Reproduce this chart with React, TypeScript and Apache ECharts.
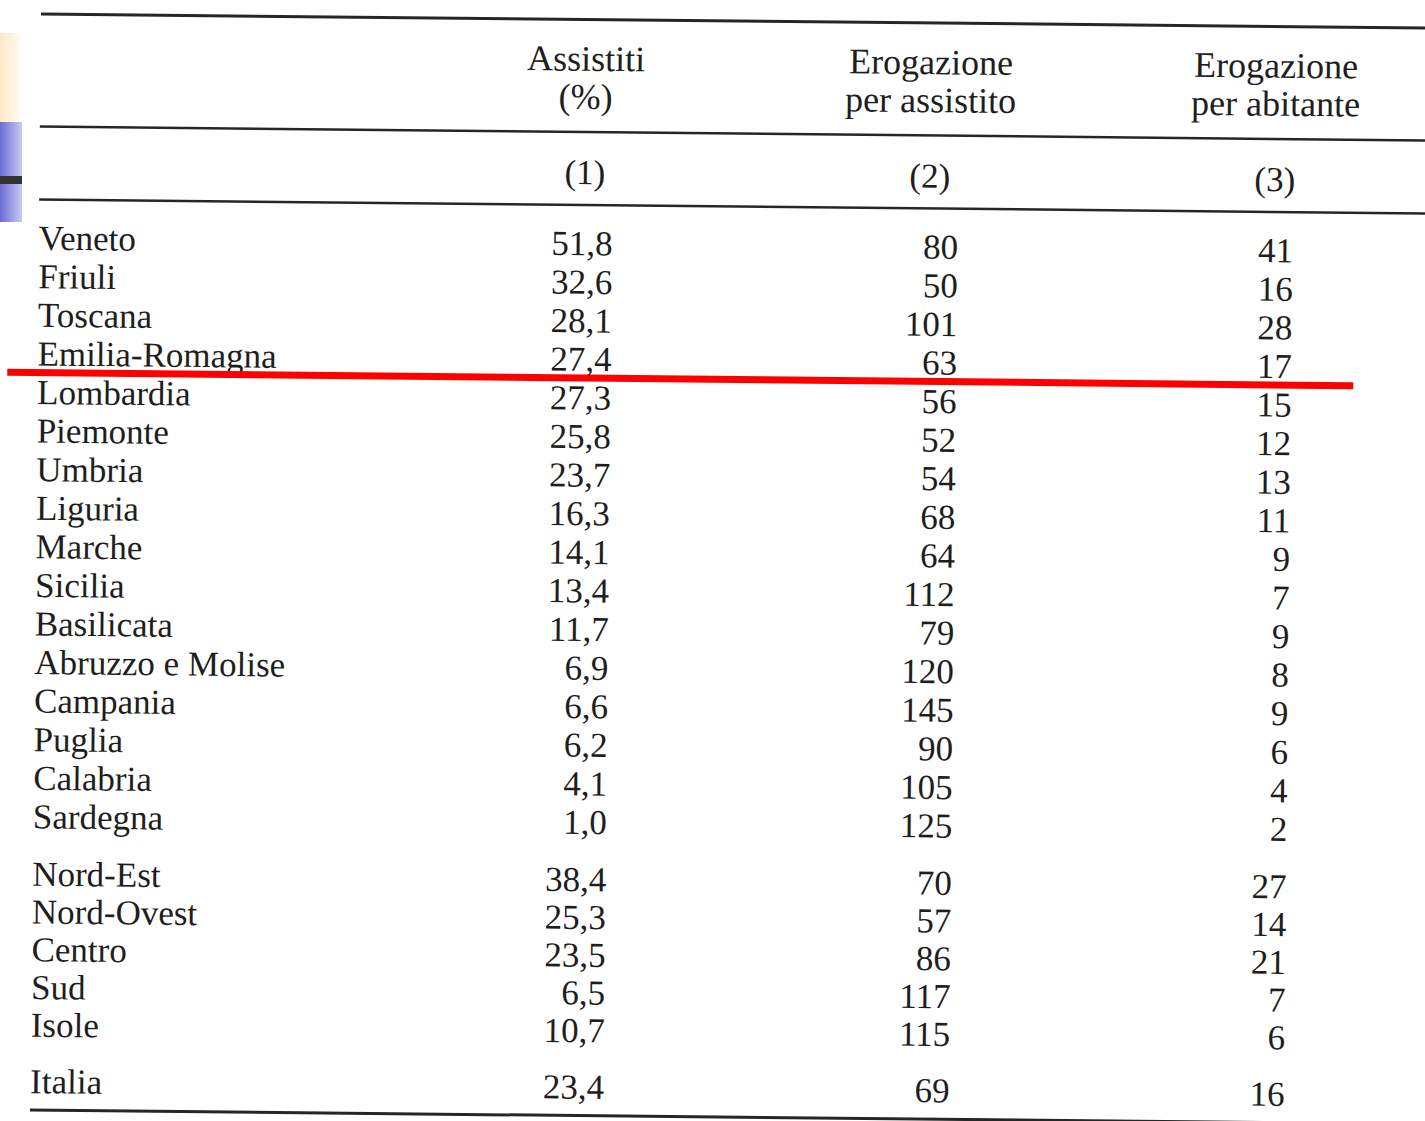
import React, { useEffect, useRef } from "react";
import * as echarts from "echarts";

// ---------- data ----------
const regions = [
  "Veneto", "Friuli", "Toscana", "Emilia-Romagna", "Lombardia", "Piemonte", "Umbria", "Liguria",
  "Marche", "Sicilia", "Basilicata", "Abruzzo e Molise", "Campania", "Puglia", "Calabria", "Sardegna",
];
const regionAssistitiPct = [51.8, 32.6, 28.1, 27.4, 27.3, 25.8, 23.7, 16.3, 14.1, 13.4, 11.7, 6.9, 6.6, 6.2, 4.1, 1.0];
const regionErogPerAssistito = [80, 50, 101, 63, 56, 52, 54, 68, 64, 112, 79, 120, 145, 90, 105, 125];
const regionErogPerAbitante = [41, 16, 28, 17, 15, 12, 13, 11, 9, 7, 9, 8, 9, 6, 4, 2];

const areas = ["Nord-Est", "Nord-Ovest", "Centro", "Sud", "Isole"];
const areaAssistitiPct = [38.4, 25.3, 23.5, 6.5, 10.7];
const areaErogPerAssistito = [70, 57, 86, 117, 115];
const areaErogPerAbitante = [27, 14, 21, 7, 6];

const totalLabels = ["Italia"];
const totalAssistitiPct = [23.4];
const totalErogPerAssistito = [69];
const totalErogPerAbitante = [16];

const headerLine1 = ["Assistiti", "Erogazione", "Erogazione"];
const headerLine2 = ["(%)", "per assistito", "per abitante"];
const columnNumbers = ["(1)", "(2)", "(3)"];

// ---------- layout ----------
const W = 1425;
const H = 1121;
const TILT = 0.0101; // scan rotation (radians, clockwise)
const PX_PER_COL = 345;
const COL1_PX = 581;
const PX_PER_ROW = 38.58;
const ROW0_PX = 245;
const X_MIN = 1 - COL1_PX / PX_PER_COL;
const X_MAX = X_MIN + W / PX_PER_COL;
const Y_MIN = -ROW0_PX / PX_PER_ROW;
const Y_MAX = Y_MIN + H / PX_PER_ROW;
const LABEL_X = X_MIN + 35.5 / PX_PER_COL;
const NUM_DX = [28.5, 29, 19];
const HEADER1_ROW = -4.795;
const HEADER2_ROW = -3.81;
const COLNUM_ROW = -1.84;
const areaRow = (j: number) => 16.485 + j * 0.979;
const TOTAL_ROW = 21.864;
const FONT = '"Liberation Serif", "DejaVu Serif", serif';
const INK = "#1e1e1e";

const fmtPct = (v: number) => v.toFixed(1).replace(".", ",");

type Cell = { x: number; y: number; text: string; align: string; size: number; dx: number };

function buildCells(): Cell[] {
  const cells: Cell[] = [];
  for (let k = 0; k < 3; k++) {
    cells.push({ x: k + 1, y: HEADER1_ROW, text: headerLine1[k], align: "center", size: 36, dx: 0 });
    cells.push({ x: k + 1, y: HEADER2_ROW, text: headerLine2[k], align: "center", size: 36, dx: 0 });
    cells.push({ x: k + 1, y: COLNUM_ROW, text: columnNumbers[k], align: "center", size: 35, dx: 0 });
  }
  const addRow = (label: string, row: number, a: number, b: number, c: number) => {
    cells.push({ x: LABEL_X, y: row, text: label, align: "left", size: 35, dx: 0 });
    cells.push({ x: 1, y: row, text: fmtPct(a), align: "right", size: 35, dx: NUM_DX[0] });
    cells.push({ x: 2, y: row, text: String(b), align: "right", size: 35, dx: NUM_DX[1] });
    cells.push({ x: 3, y: row, text: String(c), align: "right", size: 35, dx: NUM_DX[2] });
  };
  regions.forEach((r, i) => addRow(r, i, regionAssistitiPct[i], regionErogPerAssistito[i], regionErogPerAbitante[i]));
  areas.forEach((r, j) => addRow(r, areaRow(j), areaAssistitiPct[j], areaErogPerAssistito[j], areaErogPerAbitante[j]));
  totalLabels.forEach((r, j) => addRow(r, TOTAL_ROW, totalAssistitiPct[j], totalErogPerAssistito[j], totalErogPerAbitante[j]));
  return cells;
}

const RULE_X1 = X_MIN + 35.5 / PX_PER_COL;
const RULE_X2 = X_MAX + 0.3;
const rules = [
  { row: -5.811, width: 3, color: "#262626" },
  { row: -2.895, width: 2.5, color: "#262626" },
  { row: -1.003, width: 2.5, color: "#262626" },
  { row: 22.6, width: 3, color: "#262626" },
];
const redMark = { row: 3.481, x1: X_MIN + 5.4 / PX_PER_COL, x2: X_MIN + 1351.5 / PX_PER_COL, width: 7, color: "#ff0000" };

function rot(x: number, y: number): [number, number] {
  const cx = W / 2;
  const cy = H / 2;
  const s = Math.sin(TILT);
  const c = Math.cos(TILT);
  return [cx + (x - cx) * c - (y - cy) * s, cy + (x - cx) * s + (y - cy) * c];
}

export default function App() {
  const ref = useRef<HTMLDivElement>(null);
  useEffect(() => {
    document.body.style.margin = "0";
    document.body.style.overflow = "hidden";
    document.body.style.background = "#ffffff";
    if (!ref.current) return;
    const chart = echarts.init(ref.current, null, { renderer: "svg" });
    const cells = buildCells();
    const lineItems = [
      ...rules.map((r) => ({ value: [RULE_X1, r.row, RULE_X2], width: r.width, color: r.color })),
      { value: [redMark.x1, redMark.row, redMark.x2], width: redMark.width, color: redMark.color },
    ];
    chart.setOption({
      animation: false,
      backgroundColor: "#ffffff",
      grid: { left: 0, right: 0, top: 0, bottom: 0 },
      xAxis: { type: "value", min: X_MIN, max: X_MAX, show: false },
      yAxis: { type: "value", min: Y_MIN, max: Y_MAX, inverse: true, show: false },
      graphic: [
        {
          type: "rect",
          shape: { x: 0, y: 33, width: 20, height: 89 },
          style: {
            fill: new echarts.graphic.LinearGradient(0, 0, 1, 0, [
              { offset: 0, color: "#fde8c6" },
              { offset: 1, color: "#fffaf1" },
            ]),
          },
          silent: true,
        },
        {
          type: "rect",
          shape: { x: 0, y: 122, width: 22, height: 100 },
          style: {
            fill: new echarts.graphic.LinearGradient(0, 0, 1, 0, [
              { offset: 0, color: "#6c6cd6" },
              { offset: 1, color: "#cacaf2" },
            ]),
          },
          silent: true,
        },
        {
          type: "rect",
          shape: { x: 0, y: 176, width: 22, height: 8 },
          style: { fill: "#333333" },
          silent: true,
        },
      ],
      series: [
        {
          type: "custom",
          silent: true,
          clip: false,
          data: lineItems.map((d) => d.value),
          renderItem: (params: any, api: any) => {
            const it = lineItems[params.dataIndex];
            const p1 = api.coord([api.value(0), api.value(1)]);
            const p2 = api.coord([api.value(2), api.value(1)]);
            const a = rot(p1[0], p1[1]);
            const b = rot(p2[0], p2[1]);
            return {
              type: "line",
              shape: { x1: a[0], y1: a[1], x2: b[0], y2: b[1] },
              style: { stroke: it.color, lineWidth: it.width },
            };
          },
          z: 2,
        },
        {
          type: "custom",
          silent: true,
          clip: false,
          data: cells.map((c) => [c.x, c.y]),
          renderItem: (params: any, api: any) => {
            const c = cells[params.dataIndex];
            const p = api.coord([api.value(0), api.value(1)]);
            const [rx, ry] = rot(p[0] + c.dx, p[1]);
            return {
              type: "text",
              x: rx,
              y: ry,
              rotation: -TILT,
              style: {
                text: c.text,
                x: 0,
                y: 0,
                align: c.align,
                verticalAlign: "middle",
                fill: INK,
                fontSize: c.size,
                fontFamily: FONT,
              },
            };
          },
          z: 1,
        },
      ],
    });
    return () => chart.dispose();
  }, []);
  return <div ref={ref} style={{ width: W, height: H }} />;
}
